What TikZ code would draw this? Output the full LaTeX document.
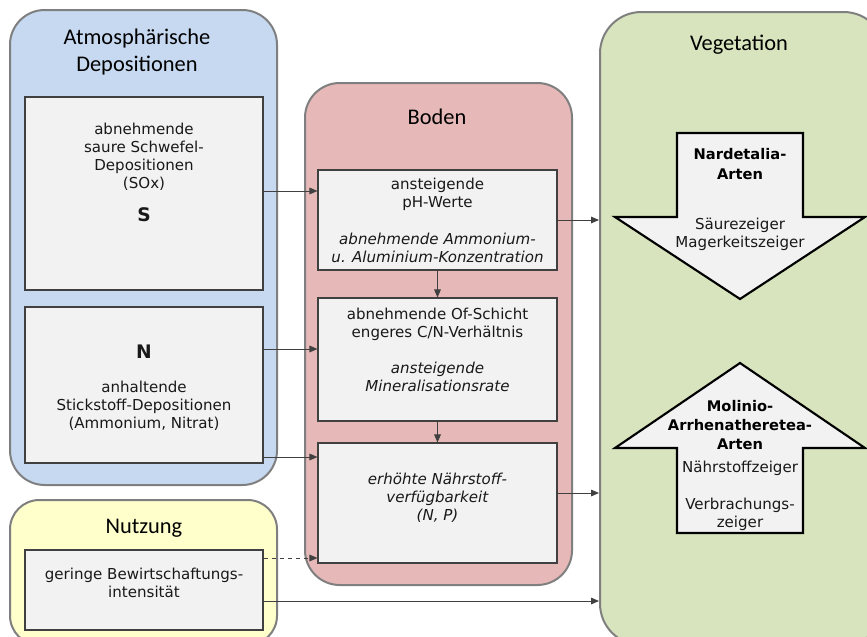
\documentclass[tikz,border=0pt]{standalone}
\usepackage{fontspec}
\setmainfont{DejaVu Sans}
\newfontfamily\hdr{Carlito}
\usetikzlibrary{arrows.meta}
\definecolor{cblue}{HTML}{C6D9F1}
\definecolor{cred}{HTML}{E6B9B8}
\definecolor{cyel}{HTML}{FFFFCC}
\definecolor{cgreen}{HTML}{D7E4BD}
\definecolor{cbox}{HTML}{F2F2F2}
\definecolor{cframe}{HTML}{7F7F7F}
\definecolor{cline}{HTML}{404040}
\tikzset{
  container/.style={draw=cframe, line width=1.5pt, inner sep=0pt},
  box/.style={draw=cline, fill=cbox, line width=0.8pt, inner sep=0pt},
  txt/.style={font=\fontsize{11.3}{13.6}\selectfont, align=center, inner sep=0pt, text=black!90},
  btxt/.style={font=\bfseries\fontsize{11}{14.5}\selectfont, align=center, inner sep=0pt, text=black},
  hd/.style={font=\hdr\fontsize{16.8}{20.2}\selectfont, align=center, inner sep=0pt},
  conn/.style={draw=cline, line width=0.75pt, -{Triangle[length=6pt,width=5pt]}},
  bigarrow/.style={draw=black, line width=1.6pt, fill=cbox, line join=miter},
}
\begin{document}
\begin{tikzpicture}[x=0.75pt,y=-0.75pt]
\useasboundingbox (0,0) rectangle (867,636);
\begin{scope}
\clip (0,0) rectangle (867,636);
% containers
\node[container, fill=cblue, rounded corners=26pt, minimum width=200.25pt, minimum height=356.25pt] (atm) at (143.5,247.5) {};
\node[container, fill=cyel, rounded corners=22pt, minimum width=200.25pt, minimum height=108.75pt] (nutz) at (143.5,572.5) {};
\node[container, fill=cred, rounded corners=26pt, minimum width=200.25pt, minimum height=376.5pt] (boden) at (438.5,334) {};
\node[container, fill=cgreen, rounded corners=31pt, minimum width=213.75pt, minimum height=474.75pt] (veg) at (742.5,328.5) {};
\end{scope}
% headers
\node[hd] (hatm) at (137,52) {Atmosphärische\\Depositionen};
\node[hd] (hnutz) at (144,528) {Nutzung};
\node[hd] (hboden) at (437,117) {Boden};
\node[hd] (hveg) at (739,45) {Vegetation};
% boxes
\node[box, minimum width=178.5pt, minimum height=144.75pt] (S) at (144,193.5) {};
\node[box, minimum width=178.5pt, minimum height=117pt] (N) at (144,385) {};
\node[box, minimum width=178.5pt, minimum height=60pt] (G) at (144,590) {};
\node[box, minimum width=179.25pt, minimum height=75pt] (b1) at (437.5,220) {};
\node[box, minimum width=179.25pt, minimum height=92.25pt] (b2) at (437.5,359.5) {};
\node[box, minimum width=179.25pt, minimum height=90pt] (b3) at (437.5,503) {};
% box texts
\node[txt] (tS) at (144,156.5) {abnehmende\\saure Schwefel-\\Depositionen\\(SOx)};
\node[txt, font=\bfseries\fontsize{14}{16}\selectfont] (tSl) at (144,215) {S};
\node[txt, font=\bfseries\fontsize{14}{16}\selectfont] (tNl) at (144,352) {N};
\node[txt] (tN) at (144,405.5) {anhaltende\\Stickstoff-Depositionen\\(Ammonium, Nitrat)};
\node[txt] (tG) at (144,582.5) {geringe Bewirtschaftungs-\\intensität};
\node[txt] (t1) at (437.5,220.5) {ansteigende\\pH-Werte\\[13.6pt]\textit{abnehmende Ammonium-}\\\textit{u. Aluminium-Konzentration}};
\node[txt] (t2) at (437.5,350) {abnehmende Of-Schicht\\engeres C/N-Verhältnis\\[13.6pt]\textit{ansteigende}\\\textit{Mineralisationsrate}};
\node[txt] (t3) at (437.5,498) {\textit{erhöhte Nährstoff-}\\\textit{verfügbarkeit}\\\textit{(N, P)}};
% big arrows
\draw[bigarrow] (677,133) -- (803,133) -- (803,217) -- (865,217) -- (740,299) -- (615,217) -- (677,217) -- cycle;
\draw[bigarrow] (740,363) -- (865,448) -- (803,448) -- (803,533) -- (677,533) -- (677,448) -- (615,448) -- cycle;
\node[btxt] (nard) at (740,164) {Nardetalia-\\Arten};
\node[txt] (saeu) at (740,234) {Säurezeiger\\Magerkeitszeiger};
\node[btxt] (moli) at (740,425) {Molinio-\\Arrhenatheretea-\\Arten};
\node[txt] (naehr) at (740,468) {Nährstoffzeiger};
\node[txt] (verb) at (740,514) {Verbrachungs-\\zeiger};
% connectors
\draw[conn] (S.east |- 0,191) -- (b1.west |- 0,191);
\draw[conn] (N.east |- 0,349) -- (b2.west |- 0,349);
\draw[conn] (N.east |- 0,457) -- (b3.west |- 0,457);
\draw[conn] (b1) -- (b2);
\draw[conn] (b2) -- (b3);
\draw[conn] (b1.east |- 0,220) -- (veg.west |- 0,220);
\draw[conn] (b3.east |- 0,493) -- (veg.west |- 0,493);
\draw[conn, dashed] (G.east |- 0,558) -- (b3.west |- 0,558);
\draw[conn] (G.east |- 0,601) -- (veg.west |- 0,601);
\end{tikzpicture}
\end{document}
